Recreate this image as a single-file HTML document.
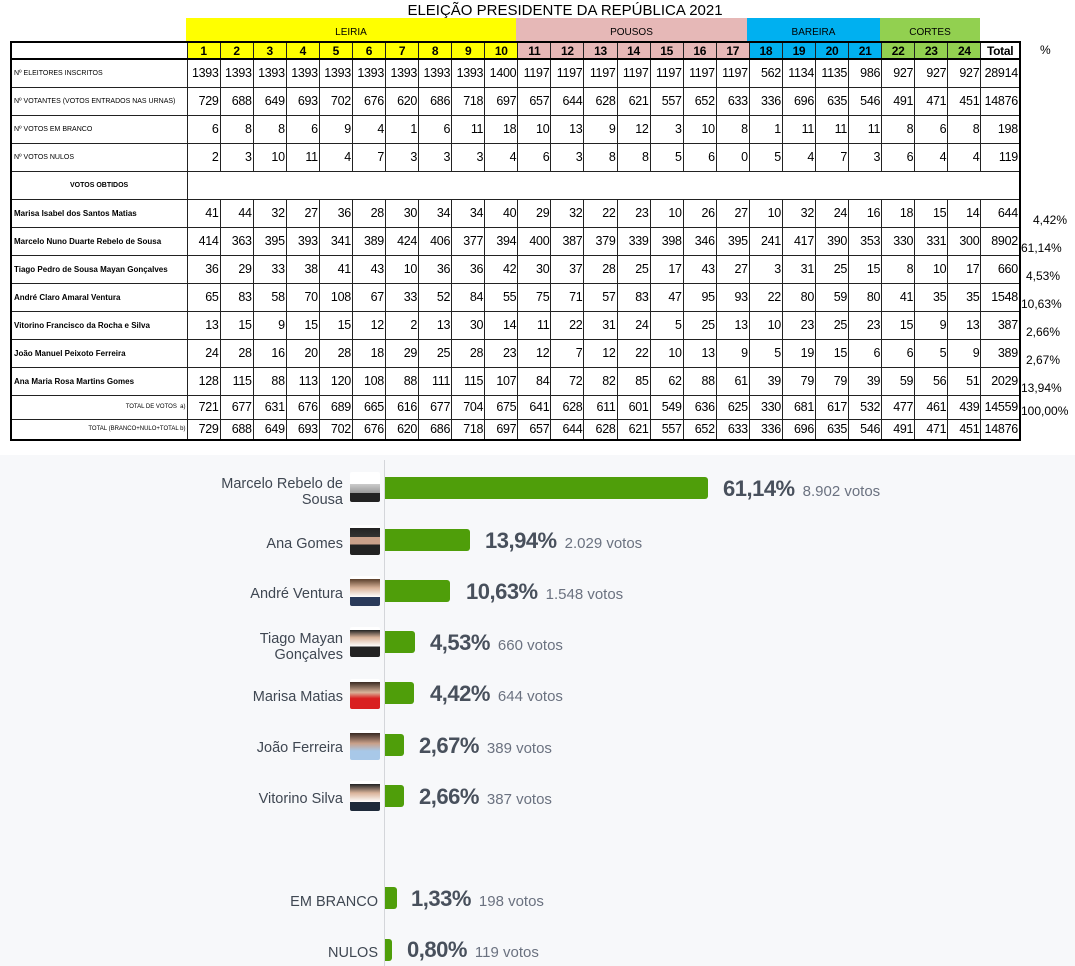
<!DOCTYPE html>
<html><head><meta charset="utf-8"><style>
*{margin:0;padding:0;box-sizing:border-box}
body{width:1075px;height:966px;position:relative;background:#fff;font-family:"Liberation Sans",Arial,sans-serif;overflow:hidden}
.t{position:absolute;left:10px;top:41px;border-collapse:collapse;table-layout:fixed;width:1009px;border:2px solid #000}
.t td{border:1px solid #222;font-size:12.5px;letter-spacing:-0.3px;text-align:right;padding:0 1px 0 0;height:28px;white-space:nowrap;overflow:hidden;color:#000}
.t td.l{text-align:left;font-size:7px;padding-left:2px;letter-spacing:0}
.t td.lb{text-align:left;font-size:8px;font-weight:bold;padding-left:2px;letter-spacing:0}
.t tr.h td{height:17px;font-weight:bold;text-align:center;font-size:12px;padding:0;border-bottom:2px solid #000}
.t tr.s1 td{height:24px}
.t tr.s2 td{height:21px}
.y{background:#ffff00}.p{background:#e6b8b7}.b{background:#00b0f0}.g{background:#92d050}
.band{position:absolute;top:18px;height:23px;font-size:10px;text-align:center;line-height:30px}
.pc{position:absolute;left:1021px;font-size:12px}
.chart{position:absolute;left:0;top:455px;width:1075px;height:511px;background:#f7f8fa}
.ax{position:absolute;left:384px;top:460px;width:1px;height:506px;background:#d4d6da}
.lab{position:absolute;right:732px;font-size:14.5px;color:#3f4752;text-align:right;line-height:16px}
.ph{position:absolute;left:350px;width:30px;height:30px;border-radius:2px}
.bar{position:absolute;left:385px;height:22px;background:#4f9e0a;border-radius:0 3px 3px 0}
.pv{position:absolute;font-size:22px;font-weight:bold;color:#48505c;letter-spacing:-0.5px}
.pv span{font-size:15px;font-weight:normal;color:#6b7280;margin-left:8px;letter-spacing:0}
</style></head><body>
<div style="position:absolute;left:0;width:1130px;top:2px;text-align:center;font-size:15px">ELEIÇÃO PRESIDENTE DA REPÚBLICA 2021</div>
<div class="band y" style="left:186px;width:330px">LEIRIA</div>
<div class="band p" style="left:516px;width:231px">POUSOS</div>
<div class="band b" style="left:747px;width:133px">BAREIRA</div>
<div class="band g" style="left:880px;width:100px">CORTES</div>
<table class="t">
<colgroup><col style="width:176px"><col span="24" style="width:33.08px"><col style="width:39px"></colgroup>
<tr class="h"><td></td><td class="y">1</td><td class="y">2</td><td class="y">3</td><td class="y">4</td><td class="y">5</td><td class="y">6</td><td class="y">7</td><td class="y">8</td><td class="y">9</td><td class="y">10</td><td class="p">11</td><td class="p">12</td><td class="p">13</td><td class="p">14</td><td class="p">15</td><td class="p">16</td><td class="p">17</td><td class="b">18</td><td class="b">19</td><td class="b">20</td><td class="b">21</td><td class="g">22</td><td class="g">23</td><td class="g">24</td><td>Total</td></tr>
<tr><td class="l">Nº ELEITORES INSCRITOS</td><td>1393</td><td>1393</td><td>1393</td><td>1393</td><td>1393</td><td>1393</td><td>1393</td><td>1393</td><td>1393</td><td>1400</td><td>1197</td><td>1197</td><td>1197</td><td>1197</td><td>1197</td><td>1197</td><td>1197</td><td>562</td><td>1134</td><td>1135</td><td>986</td><td>927</td><td>927</td><td>927</td><td>28914</td></tr>
<tr><td class="l">Nº VOTANTES (VOTOS ENTRADOS NAS URNAS)</td><td>729</td><td>688</td><td>649</td><td>693</td><td>702</td><td>676</td><td>620</td><td>686</td><td>718</td><td>697</td><td>657</td><td>644</td><td>628</td><td>621</td><td>557</td><td>652</td><td>633</td><td>336</td><td>696</td><td>635</td><td>546</td><td>491</td><td>471</td><td>451</td><td>14876</td></tr>
<tr><td class="l">Nº VOTOS EM BRANCO</td><td>6</td><td>8</td><td>8</td><td>6</td><td>9</td><td>4</td><td>1</td><td>6</td><td>11</td><td>18</td><td>10</td><td>13</td><td>9</td><td>12</td><td>3</td><td>10</td><td>8</td><td>1</td><td>11</td><td>11</td><td>11</td><td>8</td><td>6</td><td>8</td><td>198</td></tr>
<tr><td class="l">Nº VOTOS NULOS</td><td>2</td><td>3</td><td>10</td><td>11</td><td>4</td><td>7</td><td>3</td><td>3</td><td>3</td><td>4</td><td>6</td><td>3</td><td>8</td><td>8</td><td>5</td><td>6</td><td>0</td><td>5</td><td>4</td><td>7</td><td>3</td><td>6</td><td>4</td><td>4</td><td>119</td></tr>
<tr><td class="lb" style="padding-left:58px;font-size:7px">VOTOS OBTIDOS</td><td colspan="25" style="border-left:none"></td></tr>
<tr><td class="lb">Marisa Isabel dos Santos Matias</td><td>41</td><td>44</td><td>32</td><td>27</td><td>36</td><td>28</td><td>30</td><td>34</td><td>34</td><td>40</td><td>29</td><td>32</td><td>22</td><td>23</td><td>10</td><td>26</td><td>27</td><td>10</td><td>32</td><td>24</td><td>16</td><td>18</td><td>15</td><td>14</td><td>644</td></tr>
<tr><td class="lb">Marcelo Nuno Duarte Rebelo de Sousa</td><td>414</td><td>363</td><td>395</td><td>393</td><td>341</td><td>389</td><td>424</td><td>406</td><td>377</td><td>394</td><td>400</td><td>387</td><td>379</td><td>339</td><td>398</td><td>346</td><td>395</td><td>241</td><td>417</td><td>390</td><td>353</td><td>330</td><td>331</td><td>300</td><td>8902</td></tr>
<tr><td class="lb">Tiago Pedro de Sousa Mayan Gonçalves</td><td>36</td><td>29</td><td>33</td><td>38</td><td>41</td><td>43</td><td>10</td><td>36</td><td>36</td><td>42</td><td>30</td><td>37</td><td>28</td><td>25</td><td>17</td><td>43</td><td>27</td><td>3</td><td>31</td><td>25</td><td>15</td><td>8</td><td>10</td><td>17</td><td>660</td></tr>
<tr><td class="lb">André Claro Amaral Ventura</td><td>65</td><td>83</td><td>58</td><td>70</td><td>108</td><td>67</td><td>33</td><td>52</td><td>84</td><td>55</td><td>75</td><td>71</td><td>57</td><td>83</td><td>47</td><td>95</td><td>93</td><td>22</td><td>80</td><td>59</td><td>80</td><td>41</td><td>35</td><td>35</td><td>1548</td></tr>
<tr><td class="lb">Vitorino Francisco da Rocha e Silva</td><td>13</td><td>15</td><td>9</td><td>15</td><td>15</td><td>12</td><td>2</td><td>13</td><td>30</td><td>14</td><td>11</td><td>22</td><td>31</td><td>24</td><td>5</td><td>25</td><td>13</td><td>10</td><td>23</td><td>25</td><td>23</td><td>15</td><td>9</td><td>13</td><td>387</td></tr>
<tr><td class="lb">João Manuel Peixoto Ferreira</td><td>24</td><td>28</td><td>16</td><td>20</td><td>28</td><td>18</td><td>29</td><td>25</td><td>28</td><td>23</td><td>12</td><td>7</td><td>12</td><td>22</td><td>10</td><td>13</td><td>9</td><td>5</td><td>19</td><td>15</td><td>6</td><td>6</td><td>5</td><td>9</td><td>389</td></tr>
<tr><td class="lb">Ana Maria Rosa Martins Gomes</td><td>128</td><td>115</td><td>88</td><td>113</td><td>120</td><td>108</td><td>88</td><td>111</td><td>115</td><td>107</td><td>84</td><td>72</td><td>82</td><td>85</td><td>62</td><td>88</td><td>61</td><td>39</td><td>79</td><td>79</td><td>39</td><td>59</td><td>56</td><td>51</td><td>2029</td></tr>
<tr class="s1"><td class="l" style="text-align:right;font-size:6px">TOTAL DE VOTOS &nbsp;a)</td><td>721</td><td>677</td><td>631</td><td>676</td><td>689</td><td>665</td><td>616</td><td>677</td><td>704</td><td>675</td><td>641</td><td>628</td><td>611</td><td>601</td><td>549</td><td>636</td><td>625</td><td>330</td><td>681</td><td>617</td><td>532</td><td>477</td><td>461</td><td>439</td><td>14559</td></tr>
<tr class="s2"><td class="l" style="text-align:right;font-size:6px">TOTAL (BRANCO+NULO+TOTAL b)</td><td>729</td><td>688</td><td>649</td><td>693</td><td>702</td><td>676</td><td>620</td><td>686</td><td>718</td><td>697</td><td>657</td><td>644</td><td>628</td><td>621</td><td>557</td><td>652</td><td>633</td><td>336</td><td>696</td><td>635</td><td>546</td><td>491</td><td>471</td><td>451</td><td>14876</td></tr>
</table>
<div class="pc" style="left:1040px;top:43px">%</div>
<div class="pc" style="left:1033px;top:213px">4,42%</div>
<div class="pc" style="top:241px">61,14%</div>
<div class="pc" style="left:1026px;top:269px">4,53%</div>
<div class="pc" style="top:297px">10,63%</div>
<div class="pc" style="left:1026px;top:325px">2,66%</div>
<div class="pc" style="left:1026px;top:353px">2,67%</div>
<div class="pc" style="top:381px">13,94%</div>
<div class="pc" style="top:404px">100,00%</div>

<div class="chart"></div>
<div class="ax"></div>
<div class="lab" style="top:476px">Marcelo Rebelo de<br>Sousa</div><div class="ph" style="top:472px;background:linear-gradient(#fff 40%,#ccc 40%,#999 70%,#222 70%)"></div>
<div class="bar" style="top:477px;width:323px"></div><div class="pv" style="left:723px;top:476px">61,14%<span>8.902 votos</span></div>
<div class="lab" style="top:536px">Ana Gomes</div><div class="ph" style="top:525px;background:linear-gradient(#fff 10%,#222 10%,#333 40%,#c9a08a 40%,#c9a08a 65%,#222 65%)"></div>
<div class="bar" style="top:529px;width:85px"></div><div class="pv" style="left:485px;top:528px">13,94%<span>2.029 votos</span></div>
<div class="lab" style="top:586px">André Ventura</div><div class="ph" style="top:576px;background:linear-gradient(#fff 10%,#5a3e2b 10%,#d9b39a 40%,#fff 70%,#2a3a5a 70%)"></div>
<div class="bar" style="top:580px;width:65px"></div><div class="pv" style="left:466px;top:579px">10,63%<span>1.548 votos</span></div>
<div class="lab" style="top:631px">Tiago Mayan<br>Gonçalves</div><div class="ph" style="top:627px;background:linear-gradient(#fff 10%,#222 10%,#d9b39a 35%,#fff 65%,#222 65%)"></div>
<div class="bar" style="top:631px;width:30px"></div><div class="pv" style="left:430px;top:630px">4,53%<span>660 votos</span></div>
<div class="lab" style="top:689px">Marisa Matias</div><div class="ph" style="top:679px;background:linear-gradient(#fff 10%,#3a2a22 10%,#d9b39a 45%,#d92020 65%)"></div>
<div class="bar" style="top:682px;width:29px"></div><div class="pv" style="left:430px;top:681px">4,42%<span>644 votos</span></div>
<div class="lab" style="top:740px">João Ferreira</div><div class="ph" style="top:730px;background:linear-gradient(#fff 10%,#3a2a22 10%,#c9a08a 45%,#a8c8e8 70%)"></div>
<div class="bar" style="top:734px;width:19px"></div><div class="pv" style="left:419px;top:733px">2,67%<span>389 votos</span></div>
<div class="lab" style="top:791px">Vitorino Silva</div><div class="ph" style="top:781px;background:linear-gradient(#fff 10%,#222 10%,#d9b39a 40%,#fff 70%,#1e2a3a 70%)"></div>
<div class="bar" style="top:785px;width:19px"></div><div class="pv" style="left:419px;top:784px">2,66%<span>387 votos</span></div>
<div class="lab" style="top:894px;right:697px">EM BRANCO</div>
<div class="bar" style="top:887px;width:12px"></div><div class="pv" style="left:411px;top:886px">1,33%<span>198 votos</span></div>
<div class="lab" style="top:945px;right:697px">NULOS</div>
<div class="bar" style="top:939px;width:7px"></div><div class="pv" style="left:407px;top:937px">0,80%<span>119 votos</span></div>
</body></html>
